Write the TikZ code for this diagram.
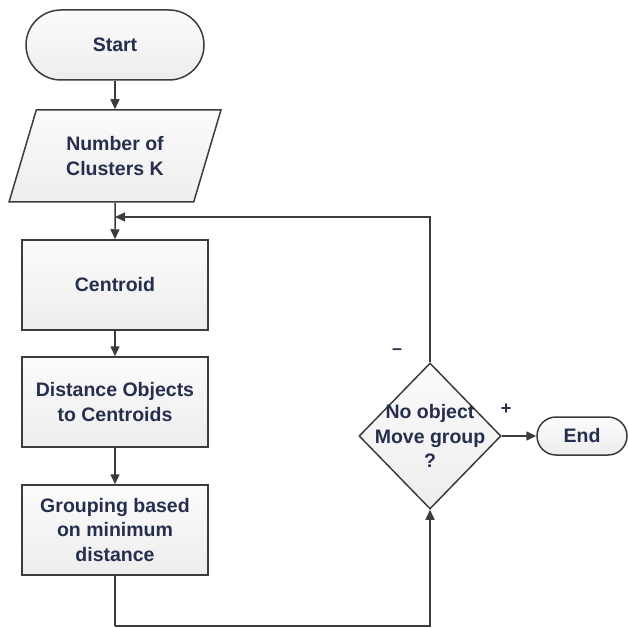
\documentclass[tikz,border=0pt]{standalone}
\usepackage{fontspec}
\setmainfont{Liberation Sans}
\usetikzlibrary{arrows.meta,shapes.geometric}
\definecolor{inkline}{RGB}{60,60,60}
\definecolor{inktext}{RGB}{38,46,78}
\tikzstyle{base}=[draw=inkline,line width=1.5pt,top color=gray!3,bottom color=gray!14,text=inktext,font=\fontsize{19.5}{24.5}\selectfont\bfseries,align=center,inner sep=0pt]
\tikzstyle{terminal}=[base,rectangle,rounded corners=35pt,minimum width=178pt,minimum height=70pt]
\tikzstyle{endterminal}=[base,rectangle,rounded corners=19pt,minimum width=90pt,minimum height=38pt]
\tikzstyle{process}=[base,rectangle,minimum width=186pt,minimum height=90pt]
\tikzstyle{inputbox}=[base,trapezium,trapezium left angle=66.5,trapezium right angle=113.5,trapezium stretches=true,minimum width=212pt,minimum height=92pt]
\tikzstyle{decision}=[base,diamond,minimum width=142pt,minimum height=146pt]
\tikzstyle{flow}=[draw=inkline,line width=1.5pt,-{Triangle[length=10pt,width=9pt]}]
\tikzstyle{wire}=[draw=inkline,line width=1.5pt]
\tikzstyle{sign}=[text=inktext,font=\fontsize{18}{18}\selectfont\bfseries]
\begin{document}
\begin{tikzpicture}[x=1pt,y=-1pt]
    \useasboundingbox (0,0) rectangle (627,628);

    % flowchart blocks
    \node[terminal] (start) at (115,45) {Start};
    \node[inputbox] (input) at (115,156) {Number of\\Clusters K};
    \node[process] (cent) at (115,285) {Centroid};
    \node[process] (dist) at (115,402) {Distance Objects\\to Centroids};
    \node[process] (group) at (115,530) {Grouping based\\on minimum\\distance};
    \node[decision, label={[text=inktext,font=\fontsize{19.5}{24.5}\selectfont\bfseries,align=center]center:No object\\Move group\\?}] (dec) at (430,436) {};
    \node[endterminal] (end) at (582,436) {End};

    \coordinate (join) at (115,217);
    \coordinate (low) at (115,626);

    % connectors
    \foreach \source/ \dest in {start/input, input/cent, cent/dist, dist/group, dec/end}
        \path[flow] (\source) -- (\dest);
    \path[flow] (dec.north) |- (join);
    \path[wire] (group.south) -- (low);
    \path[flow] (low) -| (dec.south);

    % branch signs
    \node[sign] (minus) at (397,352) {--};
    \node[sign] (plus) at (506,409) {+};
\end{tikzpicture}
\end{document}
